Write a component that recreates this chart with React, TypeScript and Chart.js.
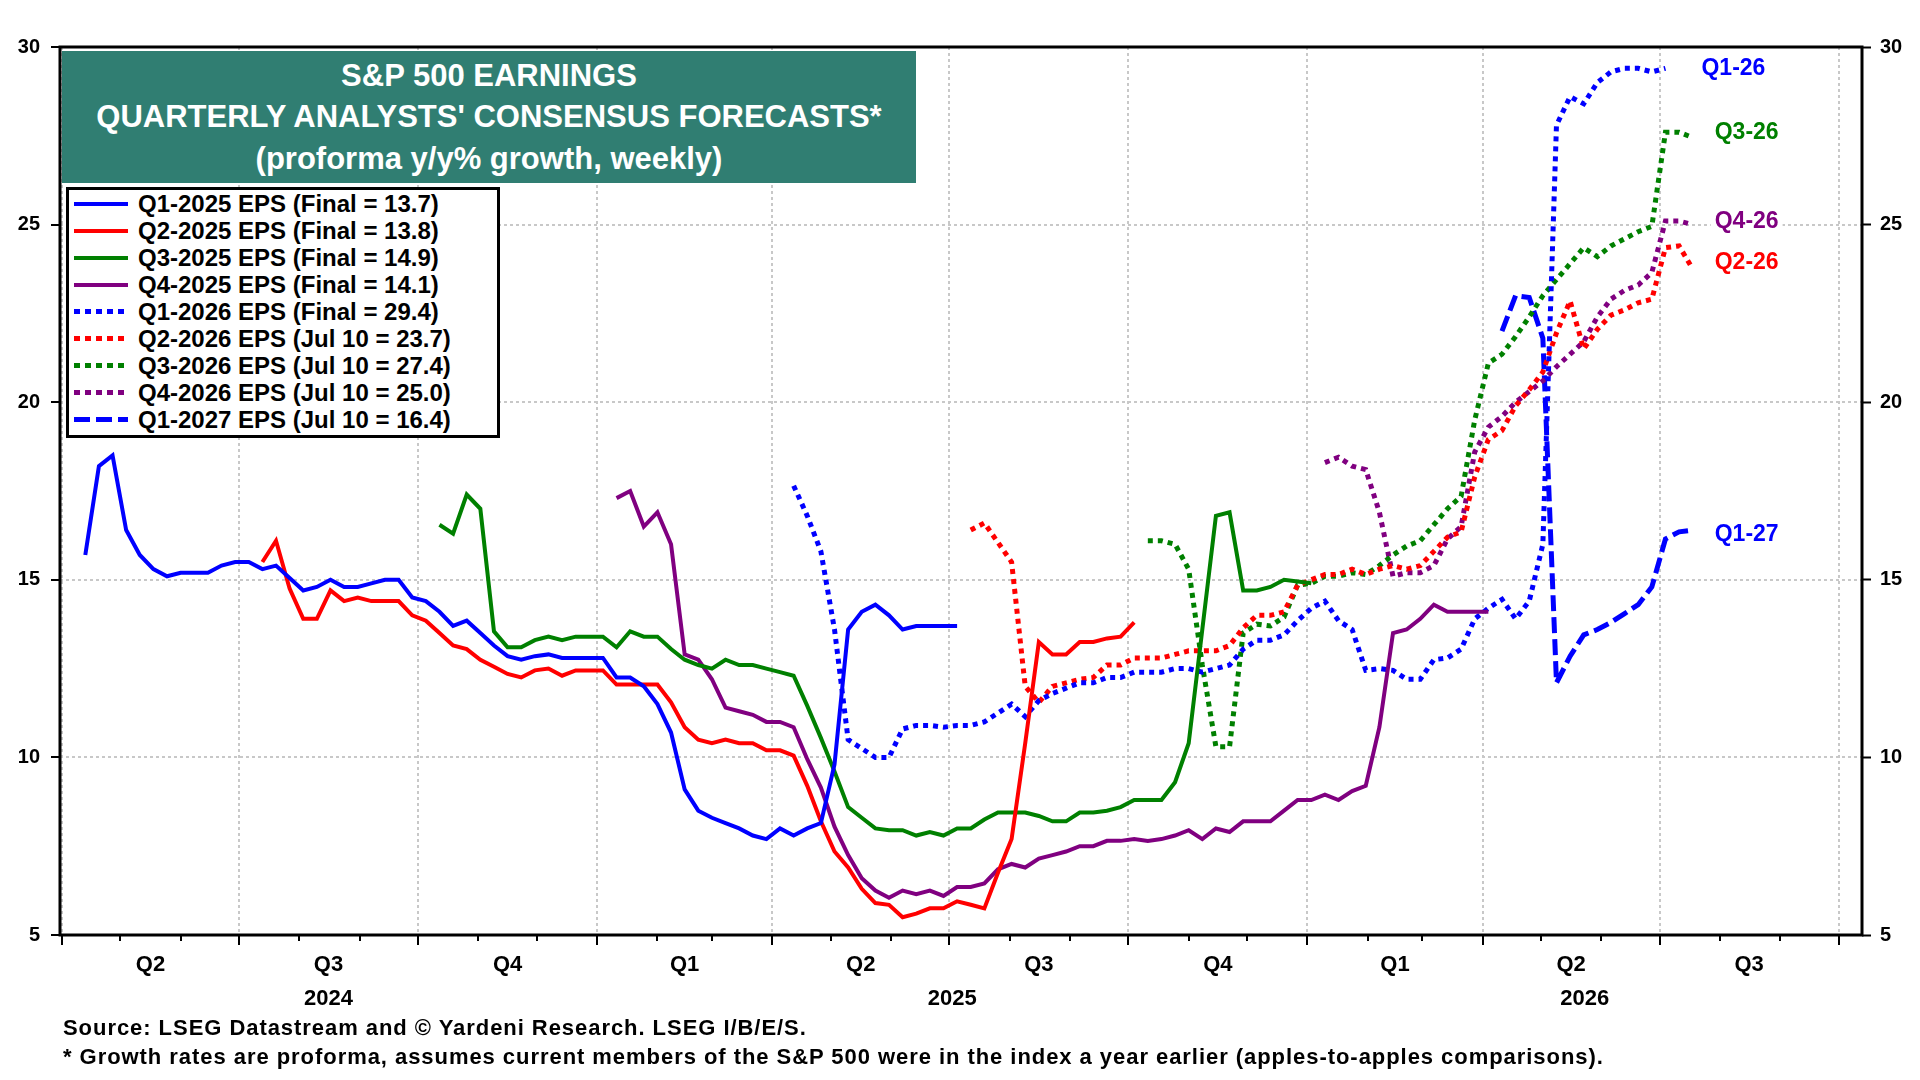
import { useEffect, useRef } from "react";
import { Chart, registerables } from "chart.js";
import type { Plugin } from "chart.js";

Chart.register(...registerables);

// x values are days counted from Apr 1 2024; observations are weekly
const FIRST_DAY = 12;
const X_MIN = -1;
const X_MAX = 925;

const Y_TICKS = [5, 10, 15, 20, 25, 30];
const QUARTER_LABELS = ["Q2", "Q3", "Q4", "Q1", "Q2", "Q3", "Q4", "Q1", "Q2", "Q3"];
const YEAR_LABELS = ["2024", "2025", "2026"];

const q1_2025Start = 0;
const q1_2025 = [
  15.7, 18.2, 18.5, 16.4, 15.7, 15.3, 15.1, 15.2, 15.2, 15.2,
  15.4, 15.5, 15.5, 15.3, 15.4, 15.05, 14.7, 14.8, 15.0, 14.8,
  14.8, 14.9, 15.0, 15.0, 14.5, 14.4, 14.1, 13.7, 13.85, 13.5,
  13.15, 12.85, 12.75, 12.85, 12.9, 12.8, 12.8, 12.8, 12.8, 12.25,
  12.25, 12.0, 11.5, 10.7, 9.1, 8.5, 8.3, 8.15, 8.0, 7.8,
  7.7, 8.0, 7.8, 8.0, 8.15, 9.8, 13.6, 14.1, 14.3, 14.0,
  13.6, 13.7, 13.7, 13.7, 13.7,
];

const q2_2025Start = 13;
const q2_2025 = [
  15.5, 16.1, 14.75, 13.9, 13.9, 14.7, 14.4, 14.5, 14.4, 14.4,
  14.4, 14.0, 13.85, 13.5, 13.15, 13.05, 12.75, 12.55, 12.35, 12.25,
  12.45, 12.5, 12.3, 12.45, 12.45, 12.45, 12.05, 12.05, 12.05, 12.05,
  11.55, 10.85, 10.5, 10.4, 10.5, 10.4, 10.4, 10.2, 10.2, 10.05,
  9.2, 8.2, 7.35, 6.9, 6.3, 5.9, 5.85, 5.5, 5.6, 5.75,
  5.75, 5.95, 5.85, 5.75, 6.75, 7.7, 10.4, 13.25, 12.9, 12.9,
  13.25, 13.25, 13.35, 13.4, 13.8,
];

const q3_2025Start = 26;
const q3_2025 = [
  16.55, 16.3, 17.4, 17.0, 13.55, 13.1, 13.1, 13.3, 13.4, 13.3,
  13.4, 13.4, 13.4, 13.1, 13.55, 13.4, 13.4, 13.05, 12.75, 12.6,
  12.5, 12.75, 12.6, 12.6, 12.5, 12.4, 12.3, 11.45, 10.55, 9.6,
  8.6, 8.3, 8.0, 7.95, 7.95, 7.8, 7.9, 7.8, 8.0, 8.0,
  8.25, 8.45, 8.45, 8.45, 8.35, 8.2, 8.2, 8.45, 8.45, 8.5,
  8.6, 8.8, 8.8, 8.8, 9.3, 10.4, 13.6, 16.8, 16.9, 14.7,
  14.7, 14.8, 15.0, 14.95, 14.9,
];

const q4_2025Start = 39;
const q4_2025 = [
  17.3, 17.5, 16.5, 16.9, 16.0, 12.9, 12.75, 12.2, 11.4, 11.3,
  11.2, 11.0, 11.0, 10.85, 9.95, 9.15, 8.05, 7.25, 6.6, 6.25,
  6.05, 6.25, 6.15, 6.25, 6.1, 6.35, 6.35, 6.45, 6.85, 7.0,
  6.9, 7.15, 7.25, 7.35, 7.5, 7.5, 7.65, 7.65, 7.7, 7.65,
  7.7, 7.8, 7.95, 7.7, 8.0, 7.9, 8.2, 8.2, 8.2, 8.5,
  8.8, 8.8, 8.95, 8.8, 9.05, 9.2, 10.85, 13.5, 13.6, 13.9,
  14.3, 14.1, 14.1, 14.1, 14.1,
];

const q1_2026Start = 52;
const q1_2026 = [
  17.65, 16.8, 15.8, 13.6, 10.5, 10.25, 10.0, 10.0, 10.8, 10.9,
  10.9, 10.85, 10.9, 10.9, 11.0, 11.25, 11.5, 11.15, 11.6, 11.8,
  11.95, 12.1, 12.1, 12.25, 12.25, 12.4, 12.4, 12.4, 12.5, 12.5,
  12.4, 12.5, 12.6, 13.05, 13.3, 13.3, 13.45, 13.85, 14.2, 14.4,
  13.85, 13.6, 12.45, 12.5, 12.45, 12.2, 12.2, 12.75, 12.8, 13.05,
  13.9, 14.2, 14.45, 13.9, 14.4, 16.0, 27.8, 28.6, 28.4, 29.0,
  29.3, 29.4, 29.4, 29.3, 29.4,
];

const q2_2026Start = 65;
const q2_2026 = [
  16.4, 16.6, 16.05, 15.5, 12.0, 11.55, 12.0, 12.1, 12.2, 12.25,
  12.6, 12.6, 12.8, 12.8, 12.8, 12.9, 13.0, 13.0, 13.0, 13.15,
  13.65, 14.0, 14.0, 14.1, 14.85, 15.0, 15.15, 15.15, 15.3, 15.15,
  15.3, 15.4, 15.3, 15.4, 15.8, 16.2, 16.35, 17.9, 18.95, 19.2,
  19.9, 20.35, 20.85, 21.95, 22.85, 21.5, 22.05, 22.45, 22.6, 22.8,
  22.9, 24.35, 24.4, 23.75,
];

const q3_2026Start = 78;
const q3_2026 = [
  16.1, 16.1, 16.0, 15.3, 12.6, 10.3, 10.3, 13.5, 13.75, 13.7,
  13.95, 14.85, 14.9, 15.1, 15.1, 15.2, 15.15, 15.4, 15.7, 15.95,
  16.1, 16.55, 17.0, 17.35, 19.5, 21.1, 21.35, 21.85, 22.4, 23.0,
  23.45, 23.9, 24.35, 24.1, 24.4, 24.6, 24.8, 24.95, 27.6, 27.6,
  27.45,
];

const q4_2026Start = 91;
const q4_2026 = [
  18.3, 18.45, 18.2, 18.1, 16.9, 15.1, 15.2, 15.2, 15.4, 16.15,
  16.5, 18.6, 19.3, 19.6, 20.0, 20.3, 20.6, 21.0, 21.35, 21.7,
  22.4, 22.9, 23.15, 23.3, 23.65, 25.1, 25.1, 25.0,
];

const q1_2027Start = 104;
const q1_2027 = [
  22.0, 23.0, 22.95, 21.8, 12.1, 12.85, 13.45, 13.6, 13.8, 14.05,
  14.3, 14.8, 16.15, 16.35, 16.4,
];

type LineStyle = "solid" | "dotted" | "dashed";

const SERIES: { label: string; color: string; style: LineStyle; start: number; values: number[] }[] = [
  { label: "Q1-2025 EPS (Final = 13.7)", color: "#0000ff", style: "solid", start: q1_2025Start, values: q1_2025 },
  { label: "Q2-2025 EPS (Final = 13.8)", color: "#ff0000", style: "solid", start: q2_2025Start, values: q2_2025 },
  { label: "Q3-2025 EPS (Final = 14.9)", color: "#008000", style: "solid", start: q3_2025Start, values: q3_2025 },
  { label: "Q4-2025 EPS (Final = 14.1)", color: "#800080", style: "solid", start: q4_2025Start, values: q4_2025 },
  { label: "Q1-2026 EPS (Final = 29.4)", color: "#0000ff", style: "dotted", start: q1_2026Start, values: q1_2026 },
  { label: "Q2-2026 EPS (Jul 10 = 23.7)", color: "#ff0000", style: "dotted", start: q2_2026Start, values: q2_2026 },
  { label: "Q3-2026 EPS (Jul 10 = 27.4)", color: "#008000", style: "dotted", start: q3_2026Start, values: q3_2026 },
  { label: "Q4-2026 EPS (Jul 10 = 25.0)", color: "#800080", style: "dotted", start: q4_2026Start, values: q4_2026 },
  { label: "Q1-2027 EPS (Jul 10 = 16.4)", color: "#0000ff", style: "dashed", start: q1_2027Start, values: q1_2027 },
];

// labels at the right end of the forecast lines
const END_LABELS = [
  { text: "Q1-26", series: 4, dx: 36, dy: 0 },
  { text: "Q3-26", series: 6, dx: 22, dy: -5 },
  { text: "Q4-26", series: 7, dx: 22, dy: -3 },
  { text: "Q2-26", series: 5, dx: 22, dy: -6 },
  { text: "Q1-27", series: 8, dx: 22, dy: 5 },
];

const GRID = "#c8c8c8";
const TITLE_BG = "#307e72";
const FONT = "'Liberation Sans', Arial, Helvetica, sans-serif";

const weekDay = (i: number) => FIRST_DAY + 7 * i;
const BASE = Date.UTC(2024, 3, 1);
const dayOf = (y: number, m: number) => Math.round((Date.UTC(y, m, 1) - BASE) / 86400000);

const MONTHS: number[] = [];
for (let m = 0; m <= 30; m++) MONTHS.push(dayOf(2024, 3 + m));
const BOUNDARIES = MONTHS.filter((_, k) => k % 3 === 0);
const BOUNDARY_SET = new Set(BOUNDARIES);

const TICK_LABELS = new Map<number, string | string[]>();
MONTHS.forEach((d) => TICK_LABELS.set(d, ""));
QUARTER_LABELS.forEach((q, k) => {
  TICK_LABELS.set((BOUNDARIES[k] + BOUNDARIES[k + 1]) / 2, q);
});
YEAR_LABELS.forEach((yr) => {
  const y = Number(yr);
  const from = Math.max(dayOf(y, 0), 0);
  const to = Math.min(dayOf(y + 1, 0), X_MAX);
  const c = (from + to) / 2;
  let merged = false;
  TICK_LABELS.forEach((lab, v) => {
    if (!merged && typeof lab === "string" && lab !== "" && Math.abs(v - c) < 3) {
      TICK_LABELS.set(v, [lab, yr]);
      merged = true;
    }
  });
  if (!merged) TICK_LABELS.set(c, ["", yr]);
});
const X_TICKS = Array.from(TICK_LABELS.keys()).sort((a, b) => a - b);

const overlayPlugin: Plugin<"line"> = {
  id: "overlay",
  afterDatasetsDraw(chart) {
    const { ctx, chartArea: a, scales } = chart;
    ctx.save();
    ctx.strokeStyle = "#000";
    ctx.lineWidth = 3;
    ctx.strokeRect(a.left, a.top, a.right - a.left, a.bottom - a.top);
    ctx.font = `bold 23px ${FONT}`;
    ctx.textBaseline = "middle";
    ctx.textAlign = "left";
    END_LABELS.forEach((lab) => {
      const s = SERIES[lab.series];
      const last = s.values.length - 1;
      const x = scales.x.getPixelForValue(weekDay(s.start + last)) + lab.dx;
      const y = scales.y.getPixelForValue(s.values[last]) + lab.dy;
      const w = ctx.measureText(lab.text).width;
      ctx.fillStyle = "#fff";
      ctx.fillRect(x - 4, y - 13, w + 8, 26);
      ctx.fillStyle = s.color;
      ctx.fillText(lab.text, x, y);
    });
    ctx.restore();
  },
};

function Swatch({ color, style }: { color: string; style: LineStyle }) {
  const base = { width: 54, marginLeft: 5, marginRight: 10, flex: "0 0 auto" };
  if (style === "solid") return <div style={{ ...base, height: 4, background: color }} />;
  const [on, off] = style === "dotted" ? [6, 11] : [16, 22];
  return (
    <div
      style={{
        ...base,
        height: 5,
        background: `repeating-linear-gradient(to right, ${color} 0px, ${color} ${on}px, transparent ${on}px, transparent ${off}px)`,
      }}
    />
  );
}

export default function App() {
  const canvasRef = useRef<HTMLCanvasElement | null>(null);

  useEffect(() => {
    if (!canvasRef.current) return;
    Chart.defaults.font.family = FONT;

    const chart = new Chart(canvasRef.current, {
      type: "line",
      data: {
        datasets: SERIES.map((s) => ({
          label: s.label,
          data: s.values.map((v, k) => ({ x: weekDay(s.start + k), y: v })),
          borderColor: s.color,
          backgroundColor: s.color,
          borderWidth: s.style === "solid" ? 4 : 5,
          borderDash: s.style === "dotted" ? [5, 5] : s.style === "dashed" ? [16, 6] : [],
          pointRadius: 0,
          tension: 0,
          fill: false,
          yAxisID: "y",
        })),
      },
      options: {
        responsive: false,
        animation: false,
        events: [],
        layout: { padding: { top: 47, left: 0, right: 0, bottom: 0 } },
        plugins: {
          legend: { display: false },
          tooltip: { enabled: false },
        },
        scales: {
          x: {
            type: "linear",
            min: X_MIN,
            max: X_MAX,
            afterBuildTicks: (scale) => {
              scale.ticks = X_TICKS.map((v) => ({ value: v }));
            },
            afterFit: (scale) => {
              scale.height = 145;
            },
            ticks: {
              autoSkip: false,
              maxRotation: 0,
              minRotation: 0,
              padding: 3,
              color: "#000",
              font: { size: 22, weight: "bold", lineHeight: "34px" },
              callback: (value) => TICK_LABELS.get(Number(value)) ?? "",
            },
            grid: {
              color: (c) => (BOUNDARY_SET.has(c.tick?.value) ? GRID : "rgba(0,0,0,0)"),
              lineWidth: 2,
              tickLength: 10,
              tickWidth: 2,
              tickColor: (c) => (TICK_LABELS.get(c.tick?.value) === "" ? "#000" : "rgba(0,0,0,0)"),
              tickBorderDash: (c) => (BOUNDARY_SET.has(c.tick?.value) ? [] : [6, 40]),
            },
            border: { display: false, dash: [3, 3] },
          },
          y: {
            position: "left",
            min: Y_TICKS[0],
            max: Y_TICKS[Y_TICKS.length - 1],
            afterBuildTicks: (scale) => {
              scale.ticks = Y_TICKS.map((v) => ({ value: v }));
            },
            afterFit: (scale) => {
              scale.width = 60;
            },
            ticks: { padding: 11, color: "#000", font: { size: 20, weight: "bold" } },
            grid: { color: GRID, lineWidth: 2, tickLength: 9, tickWidth: 2, tickColor: "#000" },
            border: { display: false, dash: [3, 3] },
          },
          y2: {
            position: "right",
            min: Y_TICKS[0],
            max: Y_TICKS[Y_TICKS.length - 1],
            afterBuildTicks: (scale) => {
              scale.ticks = Y_TICKS.map((v) => ({ value: v }));
            },
            afterFit: (scale) => {
              scale.width = 58;
            },
            ticks: { padding: 9, color: "#000", font: { size: 20, weight: "bold" } },
            grid: { drawOnChartArea: false, tickLength: 9, tickWidth: 2, tickColor: "#000" },
            border: { display: false },
          },
        },
      },
      plugins: [overlayPlugin],
    });

    return () => {
      chart.destroy();
    };
  }, []);

  return (
    <div style={{ position: "absolute", left: 0, top: 0, width: 1920, height: 1080, background: "#fff", fontFamily: FONT }}>
      <canvas ref={canvasRef} width={1920} height={1080} style={{ display: "block" }} />

      {/* title box */}
      <div
        style={{
          position: "absolute",
          left: 62,
          top: 51,
          width: 854,
          height: 132,
          background: TITLE_BG,
          color: "#fff",
          fontWeight: "bold",
          fontSize: 31,
          lineHeight: "41.5px",
          textAlign: "center",
          display: "flex",
          flexDirection: "column",
          justifyContent: "center",
        }}
      >
        <div>S&amp;P 500 EARNINGS</div>
        <div>QUARTERLY ANALYSTS' CONSENSUS FORECASTS*</div>
        <div>(proforma y/y% growth, weekly)</div>
      </div>

      {/* legend */}
      <div
        style={{
          position: "absolute",
          left: 66,
          top: 187,
          width: 434,
          boxSizing: "border-box",
          border: "3px solid #000",
          background: "#fff",
          paddingBottom: 2,
        }}
      >
        {SERIES.map((s) => (
          <div
            key={s.label}
            style={{ height: 27, display: "flex", alignItems: "center", fontSize: 24, fontWeight: "bold", whiteSpace: "nowrap" }}
          >
            <Swatch color={s.color} style={s.style} />
            <span>{s.label}</span>
          </div>
        ))}
      </div>

      {/* footnotes */}
      <div
        style={{
          position: "absolute",
          left: 63,
          top: 1013,
          fontSize: 22,
          letterSpacing: "0.95px",
          fontWeight: "bold",
          lineHeight: "29px",
          whiteSpace: "nowrap",
          color: "#000",
        }}
      >
        <div>Source: LSEG Datastream and © Yardeni Research. LSEG I/B/E/S.</div>
        <div>* Growth rates are proforma, assumes current members of the S&amp;P 500 were in the index a year earlier (apples-to-apples comparisons).</div>
      </div>
    </div>
  );
}
